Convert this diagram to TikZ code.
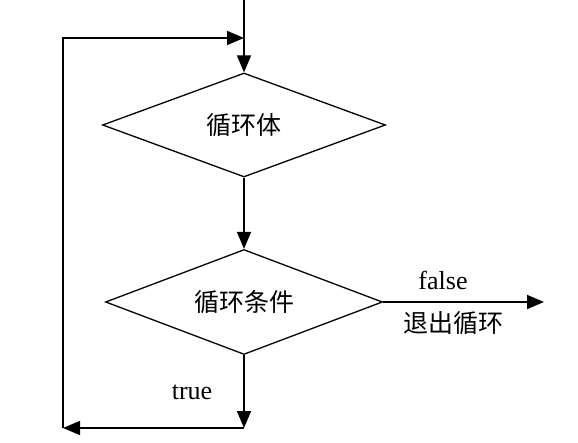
\documentclass[tikz,border=0pt]{standalone}
\usepackage{fontspec}
\setmainfont{Liberation Serif}
\newfontfamily\cjk{Noto Sans CJK SC}
\usetikzlibrary{shapes.geometric,arrows.meta}
\begin{document}
\begin{tikzpicture}[x=1pt,y=-1pt,
  ln/.style={line width=1.7pt,draw=black},
  arr/.style={ln,-{Triangle[length=17pt,width=14pt]}},
  dia/.style={diamond,aspect=2.7,draw=black,line width=1.3pt,inner sep=0pt,font=\cjk\fontsize{25}{28}\selectfont},
  lab/.style={font=\fontsize{26}{30}\selectfont,inner sep=0pt},
  cjklab/.style={font=\cjk\fontsize{25}{28}\selectfont,inner sep=0pt}]
\useasboundingbox[fill=white] (0,0) rectangle (578,443);
\node[dia,minimum width=283pt,minimum height=104pt] (d1) at (244,125) {循环体};
\node[dia,minimum width=277pt,minimum height=105pt] (d2) at (244,302) {循环条件};
\coordinate (top) at (244,0);
\coordinate (c1) at (244,38);
\coordinate (tl) at (63,38);
\coordinate (bl) at (63,428);
\coordinate (br) at (244,428);
\coordinate (exit) at (544,302);
\draw[arr] (top) -- (d1.north);
\draw[arr] (d1.south) -- (d2.north);
\draw[arr] (d2.south) -- (br);
\draw[arr] (br) -- (bl);
\draw[arr] (bl) -- (tl) -- (c1);
\draw[arr] (d2.east) -- (exit);
\node[lab] (lf) at (443,280) {false};
\node[cjklab] (lx) at (453,323) {退出循环};
\node[lab] (lt) at (192,392) {true};
\end{tikzpicture}
\end{document}
